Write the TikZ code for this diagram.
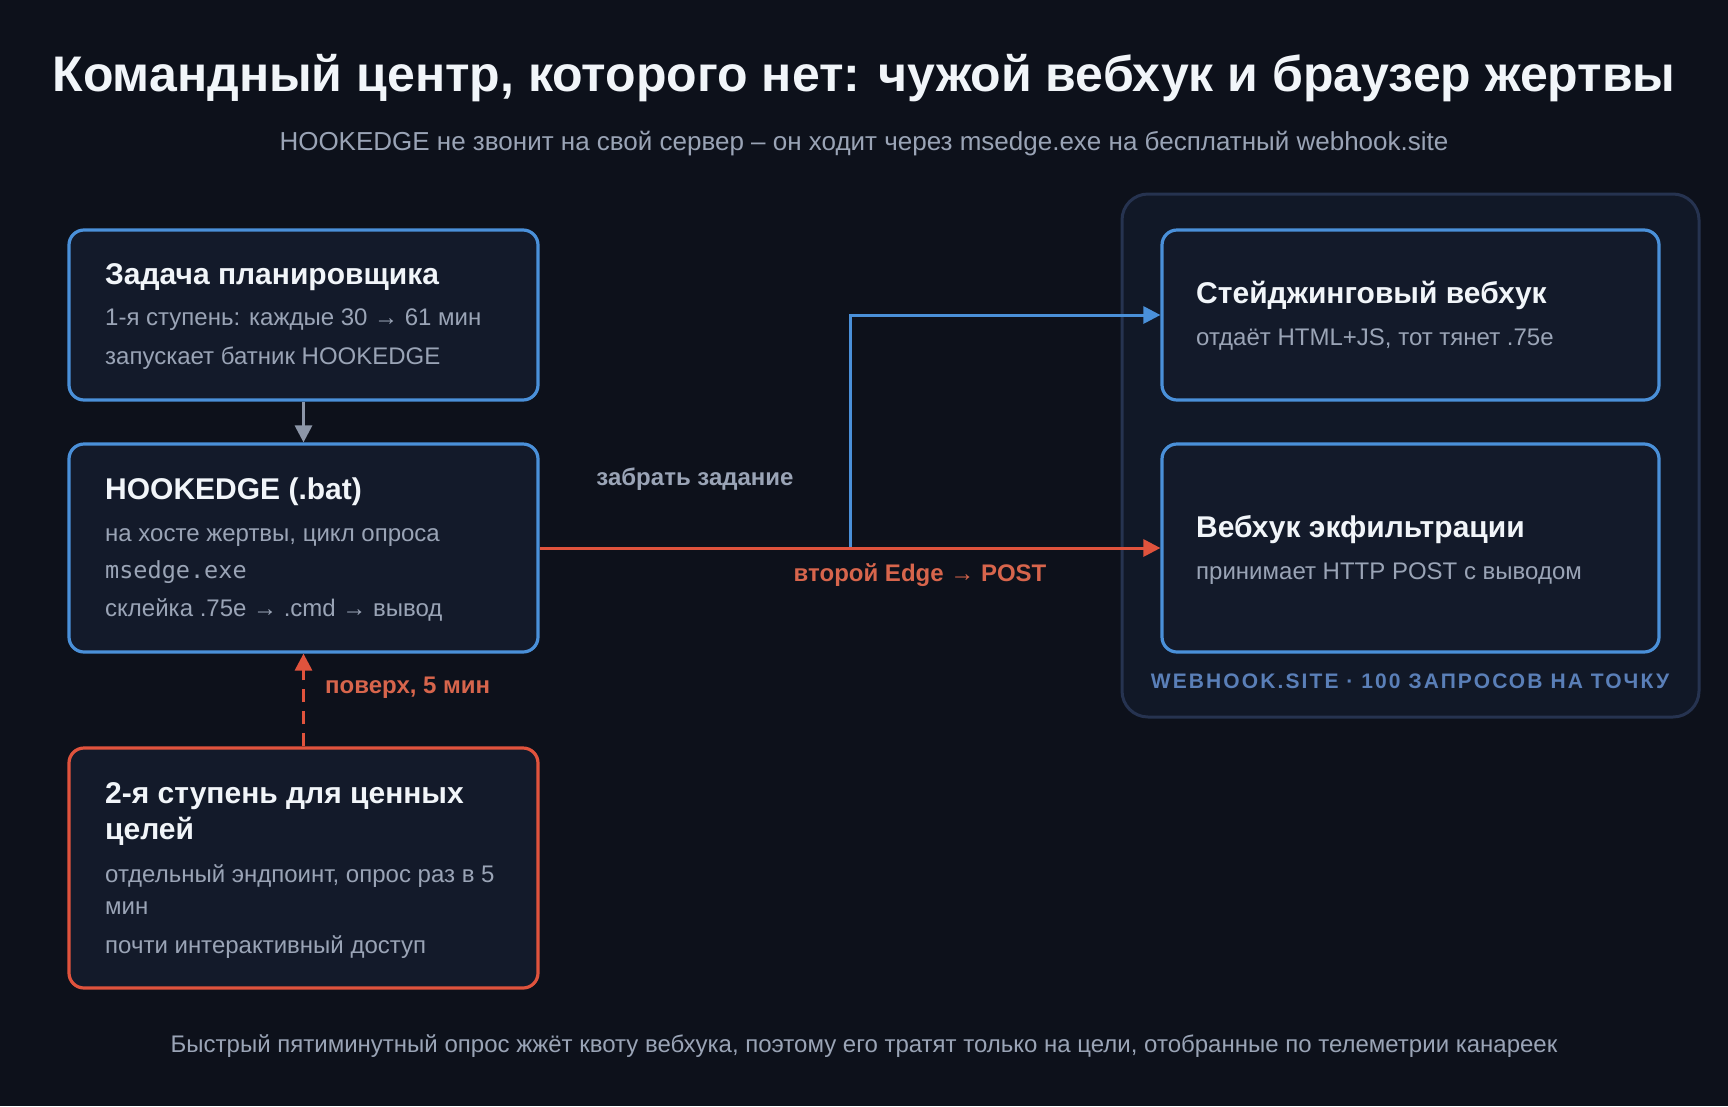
\documentclass[tikz,border=0pt]{standalone}
\usepackage{fontspec}
\setmainfont{Liberation Sans}
\setmonofont{DejaVu Sans Mono}
\newfontfamily\capsfont[LetterSpace=10]{Liberation Sans}
\usetikzlibrary{positioning,calc,arrows.meta}
\definecolor{HookBg}{HTML}{0D111B}
\definecolor{HookCard}{HTML}{131A2A}
\definecolor{HookPanel}{HTML}{111827}
\definecolor{HookFrame}{HTML}{263350}
\definecolor{HookBlue}{HTML}{4A90D9}
\definecolor{HookRed}{HTML}{E0533D}
\definecolor{HookRedText}{HTML}{D7654C}
\definecolor{HookWhite}{HTML}{F1F5F9}
\definecolor{HookGray}{HTML}{9AA4B6}
\definecolor{HookArrow}{HTML}{8C96A8}
\definecolor{HookCap}{HTML}{5A7FB8}

\begin{document}
\begin{tikzpicture}[x=1pt,y=-1pt,
    card/.style={draw=HookBlue, fill=HookCard, line width=3.2pt, rounded corners=15pt,
      minimum width=469pt, inner sep=0pt},
    ttl/.style={anchor=base west, text=HookWhite, align=left, inner sep=0pt,
      font=\fontsize{30}{36}\selectfont\bfseries},
    sub/.style={anchor=base west, text=HookGray, align=left, inner sep=0pt,
      font=\fontsize{24}{32}\selectfont},
    lbl/.style={inner sep=0pt, font=\fontsize{24}{28}\selectfont\bfseries},
    tip/.style={-{Triangle[length=17pt,width=17pt]}, line width=3pt}]

  % Background
  \fill[HookBg] (0,0) rectangle (1728,1106);

  % Heading
  \node[text=HookWhite, font=\fontsize{50}{56}\selectfont\bfseries] (head) at (864,78)
    {Командный центр, которого нет: чужой вебхук и браузер жертвы};
  \node[text=HookGray, font=\fontsize{26}{30}\selectfont] (subhead) at (864,144)
    {HOOKEDGE не звонит на свой сервер – он ходит через msedge.exe на бесплатный webhook.site};

  % Victim side
  \node[card, minimum height=170pt] (sched) at (303.5,315) {};
  \node[ttl] (schedT) at (105,284) {Задача планировщика};
  \node[sub] (schedA) at (105,325) {1-я ступень: каждые 30 → 61 мин};
  \node[sub] (schedB) at (105,364) {запускает батник HOOKEDGE};

  \node[card, minimum height=208pt] (hook) at (303.5,548) {};
  \node[ttl] (hookT) at (105,499) {HOOKEDGE (.bat)};
  \node[sub] (hookA) at (105,541) {на хосте жертвы, цикл опроса};
  \node[sub, font=\fontsize{23.5}{28}\ttfamily] (hookB) at (105,578) {msedge.exe};
  \node[sub] (hookC) at (105,616) {склейка .75e → .cmd → вывод};

  \node[card, draw=HookRed, minimum height=240pt] (elite) at (303.5,868) {};
  \node[ttl] (eliteT) at (105,839) {2-я ступень для ценных\\целей};
  \node[sub] (eliteA) at (105,914) {отдельный эндпоинт, опрос раз в 5\\мин};
  \node[sub] (eliteB) at (105,953) {почти интерактивный доступ};

  % webhook.site
  \node[draw=HookFrame, fill=HookPanel, line width=3pt, rounded corners=26pt,
    minimum width=577pt, minimum height=523pt] (site) at (1410.5,455.5) {};
  \node[card, minimum width=497pt, minimum height=170pt] (stage) at (1410.5,315) {};
  \node[ttl] (stageT) at (1196,303) {Стейджинговый вебхук};
  \node[sub] (stageA) at (1196,345) {отдаёт HTML+JS, тот тянет .75e};

  \node[card, minimum width=497pt, minimum height=208pt] (exfil) at (1410.5,548) {};
  \node[ttl] (exfilT) at (1196,537) {Вебхук экфильтрации};
  \node[sub] (exfilA) at (1196,579) {принимает HTTP POST с выводом};

  \node[text=HookCap, inner sep=0pt, font=\capsfont\fontsize{21}{24}\selectfont\bfseries]
    (siteL) at (1410,681) {WEBHOOK.SITE · 100 ЗАПРОСОВ НА ТОЧКУ};

  % Connectors
  \draw[tip, HookArrow] (sched.south) -- (hook.north);
  \draw[tip, HookRed, dash pattern=on 13pt off 9pt] (elite.north) -- (hook.south);
  \node[lbl, text=HookRedText, anchor=west] (overL) at (325,688) {поверх, 5 мин};

  \coordinate (fork) at (850,548);
  \draw[tip, HookBlue] (fork) |- (stage.west);
  \draw[tip, HookRed] (hook.east) -- (exfil.west);
  \node[lbl, text=HookGray] (pullL) at (695,479) {забрать задание};
  \node[lbl, text=HookRedText] (postL) at (920,575) {второй Edge → POST};

  % Footer
  \node[text=HookGray, font=\fontsize{24}{28}\selectfont] (foot) at (864,1046)
    {Быстрый пятиминутный опрос жжёт квоту вебхука, поэтому его тратят только на цели, отобранные по телеметрии канареек};
\end{tikzpicture}
\end{document}
